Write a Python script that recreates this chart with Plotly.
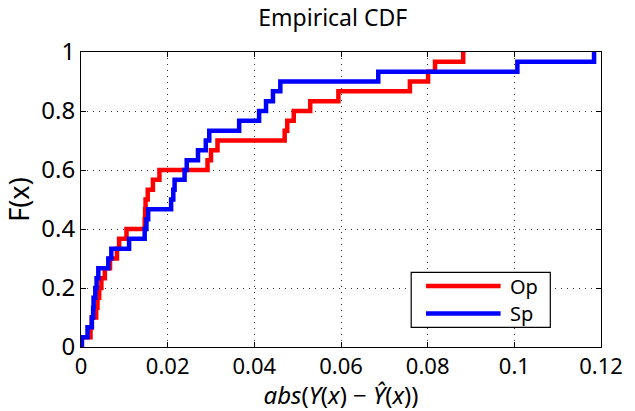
import plotly.graph_objects as go

# Sorted sample values (abs error)
op_values = [0.0002, 0.0022, 0.0025, 0.0035, 0.0038, 0.0042, 0.0047, 0.0055,
             0.0067, 0.0083, 0.0088, 0.0105, 0.0147, 0.0148, 0.0149, 0.0154,
             0.0166, 0.0181, 0.0292, 0.0300, 0.0315, 0.0470, 0.0476, 0.0491,
             0.0529, 0.0594, 0.0759, 0.0801, 0.0817, 0.0882]
sp_values = [0.0002, 0.0015, 0.0025, 0.0028, 0.0029, 0.0033, 0.0036, 0.0040,
             0.0063, 0.0070, 0.0111, 0.0147, 0.0151, 0.0155, 0.0208, 0.0213,
             0.0216, 0.0239, 0.0244, 0.0270, 0.0288, 0.0296, 0.0365, 0.0411,
             0.0427, 0.0443, 0.0460, 0.0686, 0.1007, 0.1184]
series_names = ["Op", "Sp"]
series_colors = ["#ff0000", "#0000ff"]
x_ticks = [0, 0.02, 0.04, 0.06, 0.08, 0.1, 0.12]
x_tick_labels = ["0", "0.02", "0.04", "0.06", "0.08", "0.1", "0.12"]
y_ticks = [0, 0.2, 0.4, 0.6, 0.8, 1]
y_tick_labels = ["0", "0.2", "0.4", "0.6", "0.8", "1"]


def ecdf(vals):
    s = sorted(vals)
    n = len(s)
    xs = [s[0]] + s
    ys = [0.0] + [(i + 1) / n for i in range(n)]
    return xs, ys


fig = go.Figure()
for name, vals, col in zip(series_names, [op_values, sp_values], series_colors):
    xs, ys = ecdf(vals)
    fig.add_trace(go.Scatter(x=xs, y=ys, mode="lines", name=name, showlegend=False,
                             line=dict(color=col, width=4.5, shape="hv")))

font_family = "Noto Sans"
axis_common = dict(
    showline=True, linecolor="black", linewidth=1, mirror="allticks",
    ticks="inside", ticklen=5, tickcolor="black",
    showgrid=True, gridcolor="#333333", griddash="1px,5px", gridwidth=1,
    zeroline=False,
)

fig.update_layout(
    width=635, height=411,
    margin=dict(l=81, r=31, t=52, b=59),
    paper_bgcolor="white", plot_bgcolor="white",
    title=dict(text="Empirical CDF", x=0.524, xanchor="center", y=0.976,
               yanchor="top", font=dict(family=font_family, size=23, color="black")),
    xaxis=dict(range=[0, 0.12], tickvals=x_ticks, ticktext=x_tick_labels,
               tickfont=dict(family=font_family, size=22, color="black"),
               title=dict(text="<i>abs</i>(<i>Y</i>(<i>x</i>) − <i>Ŷ</i>(<i>x</i>))",
                          font=dict(family=font_family, size=24, color="black"),
                          standoff=2),
               **axis_common),
    yaxis=dict(range=[0, 1], tickvals=y_ticks, ticktext=y_tick_labels,
               tickfont=dict(family=font_family, size=24, color="black"),
               title=dict(text="F(x)", font=dict(family=font_family, size=27, color="black"),
                          standoff=4),
               **axis_common),
    showlegend=False,
)

# Legend box drawn in the MATLAB style (lower right of the axes)
fig.add_shape(type="rect", xref="x domain", yref="y domain",
              x0=0.635, x1=0.9025, y0=0.0667, y1=0.2533,
              line=dict(color="black", width=1.2), fillcolor="white", layer="above")
legend_rows_y = [0.2067, 0.1133]
for name, col, ly in zip(series_names, series_colors, legend_rows_y):
    fig.add_shape(type="line", xref="x domain", yref="y domain",
                  x0=0.6635, x1=0.8069, y0=ly, y1=ly,
                  line=dict(color=col, width=4.5), layer="above")
    fig.add_annotation(xref="x domain", yref="y domain", x=0.822, y=ly,
                       xanchor="left", yanchor="middle", text=name, showarrow=False,
                       font=dict(family=font_family, size=20, color="black"))

fig.write_html("out.html")
